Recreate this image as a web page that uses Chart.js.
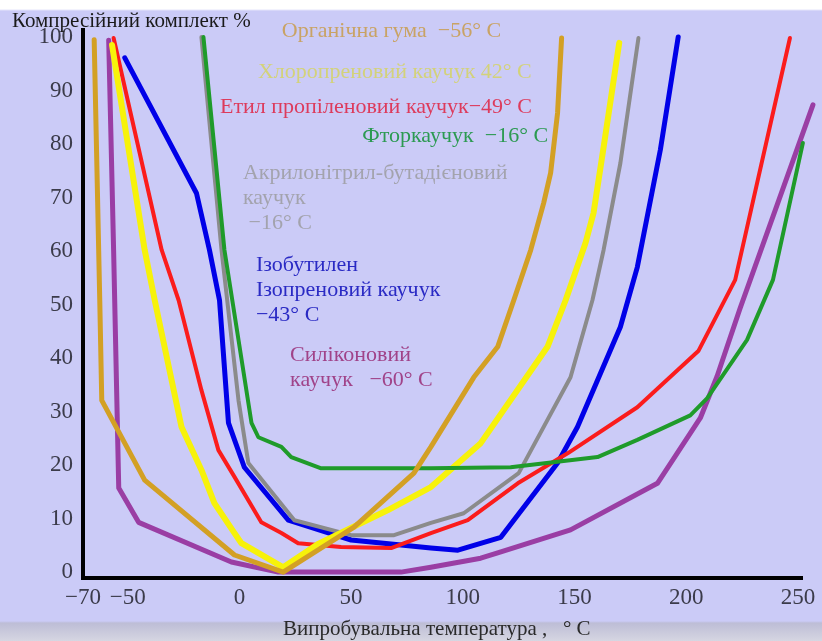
<!DOCTYPE html>
<html>
<head>
<meta charset="utf-8">
<script src="https://cdn.jsdelivr.net/npm/chart.js@4.4.1/dist/chart.umd.min.js"></script>
<style>
  html, body { margin: 0; padding: 0; }
  #wrap {
    position: relative; width: 822px; height: 641px;
    background: linear-gradient(to bottom, #ffffff 0px, #ffffff 9px, #cbcbf7 11px, #cbcbf7 621px, #bdbdd6 623px, #d6d6e2 641px);
  }
</style>
</head>
<body>
<div id="wrap"><canvas id="chart"></canvas></div>
<script>
// temperature (°C) / compression set (%)
const tOrganic = [-65, -62.5, -61.6, -42.4, -2.2, 19.6, 51.3, 78.1, 85.7, 104.9, 115.6, 122.8, 130.4, 136.2, 139.3, 142.4, 144.2];
const vOrganic = [99.5, 50.8, 32.1, 17.2, 3.2, 0, 8.4, 18.5, 23.4, 36.4, 42.1, 50.8, 60.2, 69, 74.6, 85.8, 99.8];

const tChloro = [-57, -42.4, -37.9, -25.9, -17, -11.2, -2.2, 0.9, 19.6, 35, 66.5, 85.7, 108, 137.9, 146, 154.9, 158.5, 163, 170];
const vChloro = [98.5, 60.2, 50.8, 27.1, 19.1, 12.9, 7.3, 5.4, 0.9, 5.2, 11.6, 15.9, 24.1, 42.1, 50.8, 61.5, 67.1, 79.4, 98.9];

const tEthyl = [-56.3, -34.8, -27.2, -17, -9.4, -2.2, 9.8, 18.8, 26.3, 45.5, 67.9, 85.7, 102.2, 124.6, 146.9, 178.1, 205.4, 221.9, 246.4];
const vEthyl = [99.8, 60.2, 50.8, 34, 22.8, 17.8, 9.3, 7.3, 5.4, 4.7, 4.5, 7.3, 9.7, 16.6, 22.2, 30.8, 41.3, 54.6, 99.8];

const tIsobut = [-51.3, -19.2, -13.4, -8.9, -4.9, 2.2, 21.9, 50, 85.7, 97.8, 117, 142.4, 151.3, 170.5, 178.1, 188.4, 196.4];
const vIsobut = [96.1, 70.8, 60.2, 50.8, 27.9, 19.6, 9.7, 6, 4.5, 4.1, 6.5, 20.4, 27.1, 45.8, 57, 78.9, 100];

const tAcryl = [-17, -8, -0.4, 4, 24.6, 50, 69.2, 85.7, 100.4, 125, 148.2, 158, 163, 170.5, 178.6];
const vAcryl = [100, 60.2, 32.1, 20.4, 9.7, 6.9, 6.9, 9.2, 11, 18.5, 36.4, 50.8, 60.2, 76.4, 99.8];

const tFluoro = [-16.1, -6.7, 5.4, 8.5, 18.8, 23.2, 36.6, 85.7, 121.4, 160.3, 178.1, 201.8, 209.4, 227.2, 238.8, 252.2, 254.5];
const vFluoro = [100, 60.2, 27.9, 25.2, 23.4, 21.5, 19.4, 19.4, 19.6, 21.5, 24.7, 29.3, 32.5, 43.4, 54.6, 80.2, 83];

const tSilicone = [-58.5, -56.3, -54, -45.1, -3.6, 17.4, 72.3, 85.7, 108, 115.6, 148.2, 187.1, 206.3, 213.8, 224.1, 256.7];
const vSilicone = [99.4, 60.2, 15.7, 9.3, 1.9, 0, 0, 0.9, 2.6, 3.6, 7.9, 16.6, 28.8, 36.6, 49.3, 87.3];

const xTicks = [-70, -50, 0, 50, 100, 150, 200, 250];
const yTicks = [0, 10, 20, 30, 40, 50, 60, 70, 80, 90, 100];

const yTitle = 'Компресійний комплект %';
const xTitle = 'Випробувальна температура ,   ° C';

// curve captions, placed in data units
const notes = [
  { lines: ['Органічна гума  −56° C'], t: 19, v: 101.1, color: '#c9a365' },
  { lines: ['Хлоропреновий каучук 42° C'], t: 8.3, v: 93.5, color: '#d3d27a' },
  { lines: ['Етил пропіленовий каучук−49° C'], t: -8.7, v: 86.9, color: '#dd3b5c' },
  { lines: ['Фторкаучук  −16° C'], t: 55, v: 81.5, color: '#2c9a52' },
  { lines: ['Акрилонітрил-бутадієновий', 'каучук', ' −16° C'], t: 1.6, v: 74.6, color: '#a3a3ad' },
  { lines: ['Ізобутилен', 'Ізопреновий каучук', '−43° C'], t: 7.4, v: 57.4, color: '#2a2ac4' },
  { lines: ['Силіконовий', 'каучук   −60° C'], t: 22.7, v: 40.6, color: '#a04389' }
];

function pts(ts, vs) { return ts.map((t, i) => ({ x: t, y: vs[i] })); }

function line(data, color, width) {
  return { data: data, borderColor: color, borderWidth: width, pointRadius: 0,
           tension: 0, fill: false, borderJoinStyle: 'round', borderCapStyle: 'round', clip: false };
}

const captions = {
  id: 'captions',
  afterDatasetsDraw(chart) {
    const { ctx, scales: { x, y }, chartArea } = chart;
    ctx.save();
    ctx.textAlign = 'left';
    ctx.textBaseline = 'middle';
    ctx.font = '22px "Liberation Serif"';
    notes.forEach(n => {
      ctx.fillStyle = n.color;
      n.lines.forEach((s, i) => {
        ctx.fillText(s, x.getPixelForValue(n.t), y.getPixelForValue(n.v) + i * 25);
      });
    });
    ctx.fillStyle = '#1a1a1a';
    ctx.font = '21px "Liberation Serif"';
    ctx.fillText(yTitle, 12, 21);
    ctx.fillStyle = '#2a2a2a';
    ctx.fillText(xTitle, 283, 629);
    ctx.restore();
  }
};

new Chart(document.getElementById('chart'), {
  type: 'line',
  data: {
    datasets: [
      line(pts(tOrganic, vOrganic), '#d3a024', 5),
      line(pts(tFluoro, vFluoro), '#1f9b2a', 4),
      line(pts(tChloro, vChloro), '#f7f20a', 6),
      line(pts(tAcryl, vAcryl), '#8b8b8b', 4),
      line(pts(tEthyl, vEthyl), '#fb1c1c', 4),
      line(pts(tIsobut, vIsobut), '#0000e8', 5),
      line(pts(tSilicone, vSilicone), '#9a3ea4', 5)
    ]
  },
  options: {
    responsive: true,
    maintainAspectRatio: false,
    animation: false,
    layout: { padding: { top: 30, right: 20, left: 0, bottom: 0 } },
    plugins: { legend: { display: false }, tooltip: { enabled: false } },
    scales: {
      x: {
        type: 'linear', min: -70, max: 251.8,
        afterBuildTicks: s => { s.ticks = xTicks.map(v => ({ value: v })); },
        afterFit: s => { s.height = 63; },
        grid: { display: false, drawTicks: false },
        border: { display: true, color: '#000', width: 4 },
        ticks: {
          padding: 6, color: '#3b3b4a', font: { family: 'Liberation Serif', size: 23 },
          maxRotation: 0, autoSkip: false,
          callback: v => v < 0 ? '−' + Math.abs(v) : String(v)
        }
      },
      y: {
        type: 'linear', min: -1.1, max: 101.3,
        afterBuildTicks: s => { s.ticks = yTicks.map(v => ({ value: v })); },
        afterFit: s => { s.width = 83; },
        grid: { display: false, drawTicks: false },
        border: { display: true, color: '#000', width: 4 },
        ticks: {
          padding: 10, color: '#3b3b4a', font: { family: 'Liberation Serif', size: 23 },
          autoSkip: false
        }
      }
    }
  },
  plugins: [captions]
});
</script>
</body>
</html>
